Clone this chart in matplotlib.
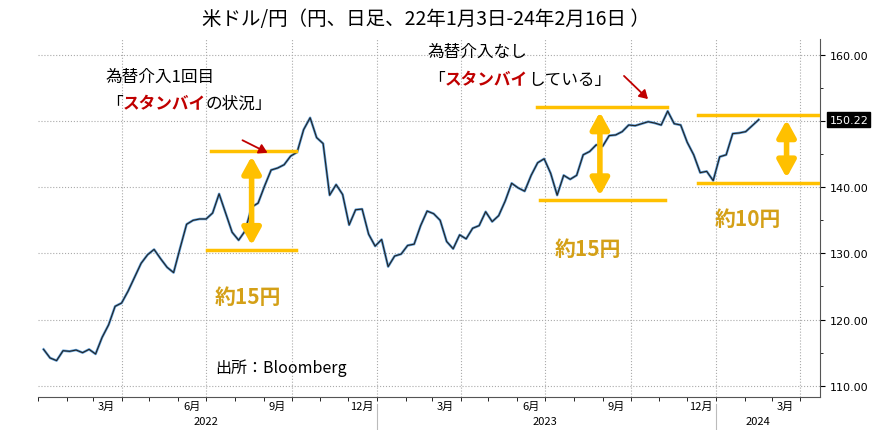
import matplotlib
matplotlib.use("Agg")
import matplotlib.pyplot as plt
import matplotlib.dates as mdates
import pandas as pd
import numpy as np

plt.rcParams['font.family'] = ['Noto Sans CJK JP', 'DejaVu Sans']

start_date = "2022-01-07"
usdjpy = [115.5,114.2,113.8,115.3,115.2,115.4,115.0,115.5,114.8,117.3,119.2,122.0,122.5,124.3,126.4,128.5,
          129.8,130.6,129.2,127.9,127.1,130.8,134.4,135.0,135.2,135.2,136.1,139.0,136.1,133.2,132.0,133.4,
          137.0,137.6,140.2,142.6,142.9,143.4,144.7,145.3,148.7,150.5,147.5,146.6,138.8,140.4,138.9,134.3,
          136.6,136.7,132.9,131.1,
          132.1,128.0,129.6,129.9,131.2,131.4,134.2,136.4,136.0,135.0,131.8,130.7,132.8,132.2,133.8,134.2,
          136.3,134.8,135.7,137.9,140.6,139.9,139.4,141.8,143.7,144.3,142.1,138.8,141.8,141.2,141.8,144.9,
          145.4,146.4,146.2,147.8,147.9,148.4,149.4,149.3,149.6,149.9,149.7,149.4,151.5,149.6,149.4,146.8,
          144.9,142.2,142.4,141.0,
          144.6,144.9,148.1,148.2,148.4,149.3,150.2]
last_price = 150.22
month_labels = ["3月","6月","9月","12月","3月","6月","9月","12月","3月"]
year_labels = ["2022","2023","2024"]

dates = pd.date_range(start_date, periods=len(usdjpy), freq="7D")
d = pd.Timestamp
W, H = 874, 431
fig = plt.figure(figsize=(W/100, H/100), dpi=100)
ax = fig.add_axes([38/W, 1-398/H, (820-38)/W, (398-40)/H])
ax.plot(dates, usdjpy, color="#5b9bd5", lw=1.8, zorder=2)
ax.plot(dates, usdjpy, color="#222222", lw=0.8, zorder=3)

ax.set_xlim(d("2022-01-01"), d("2024-04-22"))
ax.set_ylim(108.3, 162.4)
ax.yaxis.tick_right()
yt = [110,120,130,140,150,160]
ax.set_yticks(yt)
ax.set_yticklabels(["" if v == 150 else f"{v:.2f}" for v in yt], fontsize=8, family="DejaVu Sans")
ax.yaxis.set_minor_locator(matplotlib.ticker.MultipleLocator(5))
for s in ["top","left"]:
    ax.spines[s].set_visible(False)
ax.spines["right"].set_color("#555"); ax.spines["bottom"].set_color("#555")
ax.grid(axis="y", which="major", color="#aaa", ls=":", lw=0.8)
qs = [d(x) for x in ["2022-04-01","2022-07-01","2022-10-01","2023-01-01","2023-04-01","2023-07-01","2023-10-01","2024-01-01","2024-04-01"]]
for q in qs:
    ax.axvline(q, color="#aaa", ls=":", lw=0.8, zorder=0)
ax.xaxis.set_minor_locator(mdates.MonthLocator())
mids = [d(x) for x in ["2022-03-16","2022-06-16","2022-09-16","2022-12-16","2023-03-16","2023-06-16","2023-09-16","2023-12-16","2024-03-16"]]
ax.set_xticks(mids)
ax.set_xticklabels(month_labels, fontsize=8)
ax.tick_params(axis="x", which="major", length=0, pad=3)
ax.tick_params(axis="x", which="minor", length=3)
for lab, dt in zip(year_labels, ["2022-07-01","2023-07-01","2024-02-15"]):
    ax.text(d(dt), -0.067, lab, transform=ax.get_xaxis_transform(), ha="center", va="center", fontsize=8)
for dt in ["2023-01-01","2024-01-01"]:
    ax.plot([d(dt)]*2, [-0.02, -0.09], transform=ax.get_xaxis_transform(), color="#bbb", lw=0.8, clip_on=False)

ax.text(1.012, (last_price-108.3)/(162.4-108.3), f"{last_price:.2f}", transform=ax.transAxes, color="white",
        fontsize=8, va="center", ha="left", family="DejaVu Sans",
        bbox=dict(boxstyle="square,pad=0.2", fc="black", ec="black"))

OR = "#ffc000"
def bracket(x0, x1, ytop, ybot, xa):
    ax.plot([d(x0[0]), d(x0[1])], [ytop, ytop], color=OR, lw=2.5, zorder=4)
    ax.plot([d(x1[0]), d(x1[1])], [ybot, ybot], color=OR, lw=2.5, zorder=4)
    ax.annotate("", xy=(d(xa), ybot+0.3), xytext=(d(xa), ytop-0.3),
                arrowprops=dict(arrowstyle="<|-|>,head_length=1.0,head_width=0.55", color=OR, lw=4), zorder=5)
bracket(("2022-07-06","2022-10-06"), ("2022-07-02","2022-10-06"), 145.4, 130.5, "2022-08-19")
bracket(("2023-06-22","2023-11-09"), ("2023-06-25","2023-11-07"), 152.1, 138.0, "2023-08-29")
bracket(("2023-12-13","2024-04-22"), ("2023-12-13","2024-04-22"), 150.9, 140.7, "2024-03-17")

gold = "#d4a017"
for x, y, t in [(215, 297, "約15円"), (555, 250, "約15円"), (715, 220, "約10円")]:
    fig.text(x/W, 1-y/H, t, color=gold, fontsize=15, fontweight="bold", va="center")

fig.text(0.487, 1-20/H, "米ドル/円（円、日足、22年1月3日-24年2月16日 ）", ha="center", va="center", fontsize=14)
fig.text(215/W, 1-368/H, "出所：Bloomberg", fontsize=11.5, va="center")

fig.canvas.draw()
r = fig.canvas.get_renderer()
def multi(x, y, parts, fs=12):
    for txt, col, bold in parts:
        t = fig.text(x/W, 1-y/H, txt, color=col, fontsize=fs, fontweight="bold" if bold else "normal", va="center")
        x += t.get_window_extent(r).width
multi(106, 77, [("為替介入1回目", "black", False)])
multi(106, 104, [("「", "black", False), ("スタンバイ", "#c00000", True), ("の状況」", "black", False)])
multi(428, 52, [("為替介入なし", "black", False)])
multi(428, 80, [("「", "black", False), ("スタンバイ", "#c00000", True), ("している」", "black", False)])
for (x0, y0, x1, y1) in [(240, 140, 270, 155), (622, 75, 650, 102)]:
    fig.add_artist(matplotlib.patches.FancyArrowPatch((x0/W, 1-y0/H), (x1/W, 1-y1/H), transform=fig.transFigure,
                   arrowstyle="-|>,head_length=5,head_width=3", color="#c00000", lw=1.3))

fig.savefig("out.png", dpi=100)
